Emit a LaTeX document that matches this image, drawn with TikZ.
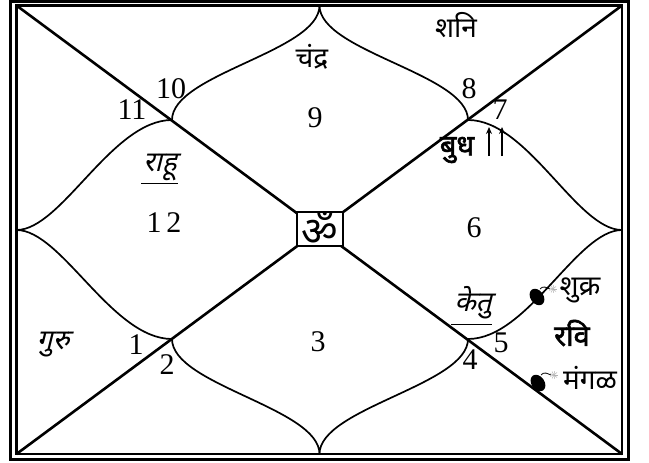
\documentclass[tikz,border=0pt]{standalone}
\usepackage{fontspec}
\setmainfont{Liberation Serif}
\newfontfamily\devfont[Script=Devanagari]{Noto Sans}
\newfontfamily\devslant[Script=Devanagari,FakeSlant=0.25]{Noto Sans}
\newfontfamily\devbold[Script=Devanagari,FakeBold=2]{Noto Sans}
\usetikzlibrary{arrows.meta}

\begin{document}
\begin{tikzpicture}[
  x=1pt, y=-1pt,
  num/.style={font=\fontsize{30}{30}\selectfont, inner sep=0pt},
  graha/.style={font=\devfont\fontsize{28}{28}\selectfont, inner sep=0pt},
  grahait/.style={font=\devslant\fontsize{28}{28}\selectfont, inner sep=0pt},
  grahabf/.style={font=\devbold\fontsize{29}{29}\selectfont, inner sep=0pt},
  border/.style={line width=2.2pt},
  diag/.style={line width=2.6pt},
  petal/.style={line width=1.7pt},
  retro/.style={->, line width=2.4pt, >={Stealth[length=7pt,width=6pt]}},
  bomb/.style={fill=black},
  >=Stealth
]
  \useasboundingbox (0,0) rectangle (649,463);

  % double frame
  \draw[border] (10.5,1.5) rectangle (628.5,459.5);
  \draw[border] (16.5,5.5) rectangle (622,454);

  % corners, edge midpoints and crossings
  \coordinate (tl) at (16.5,5.5);
  \coordinate (tr) at (622,5.5);
  \coordinate (bl) at (16.5,454);
  \coordinate (br) at (622,454);
  \coordinate (T) at (319.5,5.5);
  \coordinate (B) at (319.5,454);
  \coordinate (L) at (16.5,230);
  \coordinate (R) at (622,230);
  \coordinate (A) at (172,120);
  \coordinate (C) at (468,120);
  \coordinate (D) at (172,339);
  \coordinate (E) at (468,339);

  % diagonals
  \draw[diag] (tl) -- (br);
  \draw[diag] (bl) -- (tr);

  % lotus petals
  \draw[petal] (A) .. controls +(0,-46) and +(0,46) .. (T)
               .. controls +(0,46) and +(0,-46) .. (C);
  \draw[petal] (D) .. controls +(0,46) and +(0,-46) .. (B)
               .. controls +(0,-46) and +(0,46) .. (E);
  \draw[petal] (A) .. controls +(-60,0) and +(45,0) .. (L)
               .. controls +(45,0) and +(-60,0) .. (D);
  \draw[petal] (C) .. controls +(60,0) and +(-45,0) .. (R)
               .. controls +(-45,0) and +(60,0) .. (E);

  % centre
  \node[draw, line width=2.5pt, fill=white, minimum width=46pt, minimum height=34pt,
        inner sep=0pt] (om) at (320,229) {\devfont\fontsize{40}{40}\selectfont ॐ};

  % house numbers
  \node[num] (h1)  at (136,345) {1};
  \node[num] (h2)  at (167,365) {2};
  \node[num] (h3)  at (318,342) {3};
  \node[num] (h4)  at (470,360) {4};
  \node[num] (h5)  at (501,343) {5};
  \node[num] (h6)  at (474,228) {6};
  \node[num] (h7)  at (500,110) {7};
  \node[num] (h8)  at (469,89)  {8};
  \node[num] (h9)  at (315,118) {9};
  \node[num] (h10) at (171,89)  {10};
  \node[num] (h11) at (132,110) {11};
  \node[num] (h12) at (164,223) {1\,2};

  % planets
  \node[graha]   (shani)  at (456,25)  {शनि};
  \node[graha]   (chandra) at (312,57) {चंद्र};
  \node[grahabf] (budh)   at (457,150) {बुध};
  \node[grahait] (rahu)   at (160,167) {राहू};
  \node[grahait] (guru)   at (53,345)  {गुरु};
  \node[grahait] (ketu)   at (473,303) {केतु};
  \node[graha]   (shukra) at (580,290) {शुक्र};
  \node[grahabf] (ravi)   at (572,333) {रवि};
  \node[graha]   (mangal) at (590,378) {मंगळ};

  \draw[line width=1pt] (141,183) -- (178,183);
  \draw[line width=1pt] (451,324) -- (492,324);

  \draw[retro] (489,156) -- (489,127);
  \draw[retro] (502,156) -- (502,127);

  % bombs beside shukra and mangal
  \foreach \bx/\by in {537/297, 538/383}{
    \fill[bomb, rotate around={-55:(\bx,\by)}] (\bx,\by) ellipse (9pt and 6.5pt);
    \draw[line width=0.8pt] (\bx+3,\by-8) .. controls (\bx+6,\by-12) and (\bx+10,\by-9) .. (\bx+13,\by-8);
    \foreach \a in {0,40,...,320}
      \draw[gray!60, line width=0.5pt] (\bx+16,\by-8) -- ++(\a:4);
  }
\end{tikzpicture}
\end{document}
